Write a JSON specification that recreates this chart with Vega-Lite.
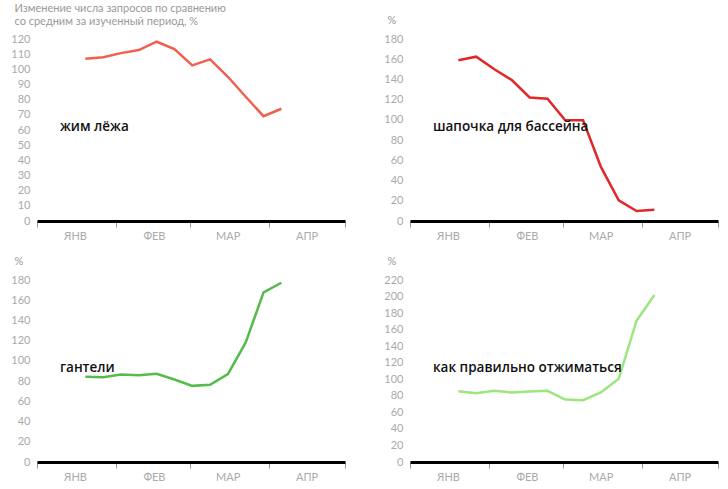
{
  "$schema": "https://vega.github.io/schema/vega-lite/v6.json",
  "padding": {"left": 10, "top": 2, "right": 0, "bottom": 0},
  "background": "white",
  "datasets": {
    "series": [
      {"s": 1, "date": "2020-01-20", "value": 107},
      {"s": 1, "date": "2020-01-27", "value": 108},
      {"s": 1, "date": "2020-02-03", "value": 110.7},
      {"s": 1, "date": "2020-02-10", "value": 112.7},
      {"s": 1, "date": "2020-02-17", "value": 118.2},
      {"s": 1, "date": "2020-02-24", "value": 113.4},
      {"s": 1, "date": "2020-03-02", "value": 102.6},
      {"s": 1, "date": "2020-03-09", "value": 106.6},
      {"s": 1, "date": "2020-03-16", "value": 95.1},
      {"s": 1, "date": "2020-03-23", "value": 81.9},
      {"s": 1, "date": "2020-03-30", "value": 69.1},
      {"s": 1, "date": "2020-04-06", "value": 74},
      {"s": 2, "date": "2020-01-20", "value": 158.9},
      {"s": 2, "date": "2020-01-27", "value": 162.5},
      {"s": 2, "date": "2020-02-03", "value": 150.3},
      {"s": 2, "date": "2020-02-10", "value": 139.4},
      {"s": 2, "date": "2020-02-17", "value": 122.2},
      {"s": 2, "date": "2020-02-24", "value": 120.9},
      {"s": 2, "date": "2020-03-02", "value": 99.7},
      {"s": 2, "date": "2020-03-09", "value": 99.7},
      {"s": 2, "date": "2020-03-16", "value": 53.5},
      {"s": 2, "date": "2020-03-23", "value": 20.5},
      {"s": 2, "date": "2020-03-30", "value": 9.9},
      {"s": 2, "date": "2020-04-06", "value": 11.2},
      {"s": 3, "date": "2020-01-20", "value": 84.2},
      {"s": 3, "date": "2020-01-27", "value": 83.9},
      {"s": 3, "date": "2020-02-03", "value": 86.5},
      {"s": 3, "date": "2020-02-10", "value": 85.9},
      {"s": 3, "date": "2020-02-17", "value": 87.2},
      {"s": 3, "date": "2020-02-24", "value": 81.6},
      {"s": 3, "date": "2020-03-02", "value": 75.3},
      {"s": 3, "date": "2020-03-09", "value": 76.3},
      {"s": 3, "date": "2020-03-16", "value": 86.9},
      {"s": 3, "date": "2020-03-23", "value": 118.2},
      {"s": 3, "date": "2020-03-30", "value": 167.8},
      {"s": 3, "date": "2020-04-06", "value": 177.3},
      {"s": 4, "date": "2020-01-20", "value": 85.6},
      {"s": 4, "date": "2020-01-27", "value": 83.2},
      {"s": 4, "date": "2020-02-03", "value": 86},
      {"s": 4, "date": "2020-02-10", "value": 84},
      {"s": 4, "date": "2020-02-17", "value": 85.2},
      {"s": 4, "date": "2020-02-24", "value": 86},
      {"s": 4, "date": "2020-03-02", "value": 75.5},
      {"s": 4, "date": "2020-03-09", "value": 74.7},
      {"s": 4, "date": "2020-03-16", "value": 84},
      {"s": 4, "date": "2020-03-23", "value": 100.5},
      {"s": 4, "date": "2020-03-30", "value": 170.8},
      {"s": 4, "date": "2020-04-06", "value": 201.9}
    ],
    "labels": [
      {"s": 1, "date": "2020-01-10", "value": 62, "label": "жим лёжа"},
      {"s": 2, "date": "2020-01-10", "value": 93, "label": "шапочка для бассейна"},
      {"s": 3, "date": "2020-01-10", "value": 92.8, "label": "гантели"},
      {"s": 4, "date": "2020-01-10", "value": 113.4, "label": "как правильно отжиматься"}
    ]
  },
  "spacing": 14,
  "vconcat": [
    {
      "spacing": 0,
      "hconcat": [
        {
          "width": 308, "height": 182,
          "encoding": {
            "x": {"field": "date", "type": "temporal",
              "scale": {"type": "utc", "domain": [{"year": 2020, "month": 1, "date": 1, "utc": true}, {"year": 2020, "month": 5, "date": 1, "utc": true}]},
              "axis": {"title": null, "values": [{"year": 2020, "month": 1, "date": 1, "utc": true}, {"year": 2020, "month": 2, "date": 1, "utc": true}, {"year": 2020, "month": 3, "date": 1, "utc": true}, {"year": 2020, "month": 4, "date": 1, "utc": true}, {"year": 2020, "month": 5, "date": 1, "utc": true}],
                "labelExpr": "['ЯНВ','ФЕВ','МАР','АПР',''][utcmonth(datum.value)]", "labelOffset": 38, "labelFlush": false, "labelOverlap": false, "labelBound": false}},
            "y": {"field": "value", "type": "quantitative",
              "scale": {"domain": [0, 120], "nice": false},
              "axis": {"values": [0, 10, 20, 30, 40, 50, 60, 70, 80, 90, 100, 110, 120],
                "title": ["Изменение числа запросов по сравнению", "со средним за изученный период, %"],
                "titleBaseline": "top", "titleY": -37, "titleLineHeight": 13}}
          },
          "layer": [
            {"data": {"name": "series"}, "transform": [{"filter": "datum.s == 1"}], "mark": {"type": "line", "color": "#f0604f", "strokeWidth": 2.5}},
            {"data": {"name": "labels"}, "transform": [{"filter": "datum.s == 1"}], "mark": {"type": "text", "align": "left", "baseline": "middle", "font": "Open Sans", "fontSize": 13.5, "fontWeight": 600, "color": "#111111"}, "encoding": {"text": {"field": "label"}}}
          ]
        },
        {
          "width": 308, "height": 182,
          "encoding": {
            "x": {"field": "date", "type": "temporal",
              "scale": {"type": "utc", "domain": [{"year": 2020, "month": 1, "date": 1, "utc": true}, {"year": 2020, "month": 5, "date": 1, "utc": true}]},
              "axis": {"title": null, "values": [{"year": 2020, "month": 1, "date": 1, "utc": true}, {"year": 2020, "month": 2, "date": 1, "utc": true}, {"year": 2020, "month": 3, "date": 1, "utc": true}, {"year": 2020, "month": 4, "date": 1, "utc": true}, {"year": 2020, "month": 5, "date": 1, "utc": true}],
                "labelExpr": "['ЯНВ','ФЕВ','МАР','АПР',''][utcmonth(datum.value)]", "labelOffset": 38, "labelFlush": false, "labelOverlap": false, "labelBound": false}},
            "y": {"field": "value", "type": "quantitative",
              "scale": {"domain": [0, 180], "nice": false},
              "axis": {"values": [0, 20, 40, 60, 80, 100, 120, 140, 160, 180], "title": "%"}}
          },
          "layer": [
            {"data": {"name": "series"}, "transform": [{"filter": "datum.s == 2"}], "mark": {"type": "line", "color": "#e0282a", "strokeWidth": 2.5}},
            {"data": {"name": "labels"}, "transform": [{"filter": "datum.s == 2"}], "mark": {"type": "text", "align": "left", "baseline": "middle", "font": "Open Sans", "fontSize": 13.5, "fontWeight": 600, "color": "#111111"}, "encoding": {"text": {"field": "label"}}}
          ]
        }
      ]
    },
    {
      "spacing": 0,
      "hconcat": [
        {
          "width": 308, "height": 182,
          "encoding": {
            "x": {"field": "date", "type": "temporal",
              "scale": {"type": "utc", "domain": [{"year": 2020, "month": 1, "date": 1, "utc": true}, {"year": 2020, "month": 5, "date": 1, "utc": true}]},
              "axis": {"title": null, "values": [{"year": 2020, "month": 1, "date": 1, "utc": true}, {"year": 2020, "month": 2, "date": 1, "utc": true}, {"year": 2020, "month": 3, "date": 1, "utc": true}, {"year": 2020, "month": 4, "date": 1, "utc": true}, {"year": 2020, "month": 5, "date": 1, "utc": true}],
                "labelExpr": "['ЯНВ','ФЕВ','МАР','АПР',''][utcmonth(datum.value)]", "labelOffset": 38, "labelFlush": false, "labelOverlap": false, "labelBound": false}},
            "y": {"field": "value", "type": "quantitative",
              "scale": {"domain": [0, 180], "nice": false},
              "axis": {"values": [0, 20, 40, 60, 80, 100, 120, 140, 160, 180], "title": "%"}}
          },
          "layer": [
            {"data": {"name": "series"}, "transform": [{"filter": "datum.s == 3"}], "mark": {"type": "line", "color": "#55bb4a", "strokeWidth": 2.5}},
            {"data": {"name": "labels"}, "transform": [{"filter": "datum.s == 3"}], "mark": {"type": "text", "align": "left", "baseline": "middle", "font": "Open Sans", "fontSize": 13.5, "fontWeight": 600, "color": "#111111"}, "encoding": {"text": {"field": "label"}}}
          ]
        },
        {
          "width": 308, "height": 182,
          "encoding": {
            "x": {"field": "date", "type": "temporal",
              "scale": {"type": "utc", "domain": [{"year": 2020, "month": 1, "date": 1, "utc": true}, {"year": 2020, "month": 5, "date": 1, "utc": true}]},
              "axis": {"title": null, "values": [{"year": 2020, "month": 1, "date": 1, "utc": true}, {"year": 2020, "month": 2, "date": 1, "utc": true}, {"year": 2020, "month": 3, "date": 1, "utc": true}, {"year": 2020, "month": 4, "date": 1, "utc": true}, {"year": 2020, "month": 5, "date": 1, "utc": true}],
                "labelExpr": "['ЯНВ','ФЕВ','МАР','АПР',''][utcmonth(datum.value)]", "labelOffset": 38, "labelFlush": false, "labelOverlap": false, "labelBound": false}},
            "y": {"field": "value", "type": "quantitative",
              "scale": {"domain": [0, 220], "nice": false},
              "axis": {"values": [0, 20, 40, 60, 80, 100, 120, 140, 160, 180, 200, 220], "title": "%"}}
          },
          "layer": [
            {"data": {"name": "series"}, "transform": [{"filter": "datum.s == 4"}], "mark": {"type": "line", "color": "#9de57f", "strokeWidth": 2.5}},
            {"data": {"name": "labels"}, "transform": [{"filter": "datum.s == 4"}], "mark": {"type": "text", "align": "left", "baseline": "middle", "font": "Open Sans", "fontSize": 13.5, "fontWeight": 600, "color": "#111111"}, "encoding": {"text": {"field": "label"}}}
          ]
        }
      ]
    }
  ],
  "config": {
    "view": {"stroke": null},
    "font": "Lato",
    "axis": {"grid": false, "labelColor": "#aaaaaa", "labelFont": "Lato", "labelFontSize": 11, "titleFont": "Lato", "titleFontWeight": "normal", "titleColor": "#999999", "titleFontSize": 11},
    "axisX": {"domainColor": "#000000", "domainWidth": 3, "tickColor": "#999999", "tickSize": 6, "tickWidth": 1, "labelPadding": 3},
    "axisY": {"domain": false, "ticks": false, "labelPadding": 7, "titleAngle": 0, "titleAlign": "left", "titleBaseline": "middle", "titleX": -23, "titleY": -19}
  }
}
